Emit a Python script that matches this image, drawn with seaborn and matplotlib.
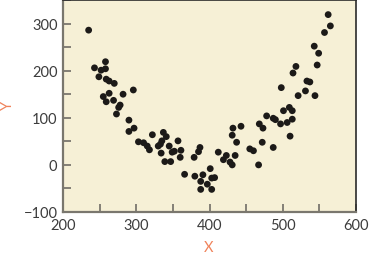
import matplotlib
matplotlib.use("Agg")
import matplotlib.pyplot as plt
import seaborn as sns
import pandas as pd
from matplotlib.ticker import MultipleLocator

x_vals = [235, 258, 243, 252, 258, 249, 259, 263, 270, 296, 282, 263, 255, 259, 269,
          278, 276, 273, 290, 290, 297, 303, 310, 315, 318, 322, 337, 341, 333, 330,
          345, 334, 339, 347, 335, 357, 352, 361, 349, 360, 387, 385, 379, 366, 380,
          391, 401, 388, 397, 403, 407, 388, 403, 412, 419, 423, 428, 431, 435, 437,
          431, 432, 443, 455, 460, 467, 472, 468, 473, 478, 487, 490, 487, 498, 533,
          537, 531, 521, 544, 501, 509, 513, 497, 506, 513, 510, 562, 565, 557, 543,
          549, 547, 518, 514]
y_vals = [286, 219, 206, 201, 204, 187, 182, 178, 173, 159, 150, 152, 145, 134, 137,
          127, 122, 108, 95, 71, 78, 49, 47, 40, 32, 64, 69, 60, 44, 40,
          40, 25, 7, 7, 51, 51, 29, 31, 27, 16, 37, 28, 16, -20, -24,
          -21, -8, -35, -41, -28, -27, -52, -52, 27, 11, 20, 6, 0, 20, 48,
          63, 78, 82, 34, 30, 0, 48, 87, 78, 104, 99, 96, 37, 164, 178,
          176, 157, 147, 147, 115, 122, 115, 87, 90, 97, 61, 319, 295, 281, 252,
          237, 212, 209, 195]
x_ticks = [200, 300, 400, 500, 600]
y_ticks = [-100, 0, 100, 200, 300]

df = pd.DataFrame({"X": x_vals, "Y": y_vals})

sns.set_style("ticks")
plt.rcParams["font.family"] = ["Lato", "DejaVu Sans"]

fig = plt.figure(figsize=(3.69, 2.55), dpi=100)
ax = fig.add_axes([63/369, 42/255, 293/369, 212/255])
ax.set_facecolor("#F6F0D6")

sns.scatterplot(data=df, x="X", y="Y", ax=ax, color="#1c1a18", s=24,
                edgecolor="none", linewidth=0)

ax.set_xlim(200, 600)
ax.set_ylim(-100, 350)
ax.set_xticks(x_ticks)
ax.set_yticks(y_ticks)
ax.set_xticklabels([str(v) for v in x_ticks])
ax.set_yticklabels([str(v).replace("-", "\u2212") for v in y_ticks])
ax.xaxis.set_minor_locator(MultipleLocator(50))
ax.yaxis.set_minor_locator(MultipleLocator(50))

for which in ("major", "minor"):
    ax.tick_params(axis="both", which=which, direction="in", length=6,
                   width=1.3, color="#7a776e")
ax.tick_params(axis="both", which="major", labelsize=10.5, labelcolor="#3c3c3c", pad=4)
ax.tick_params(axis="x", which="minor", bottom=True)

for side in ("left", "bottom"):
    ax.spines[side].set_color("#7a776e")
    ax.spines[side].set_linewidth(1.6)
for side in ("top", "right"):
    ax.spines[side].set_visible(True)
    ax.spines[side].set_color("#2a2a2a")
    ax.spines[side].set_linewidth(1.2)

ax.set_xlabel("X", color="#F0825A", fontsize=10.5)
ax.set_ylabel("Y", color="#F0825A", fontsize=10.5)
ax.xaxis.set_label_coords((209 - 63) / 293, -(248 - 213) / 212)
ax.yaxis.set_label_coords(-(63 - 7.5) / 293, (213 - 105) / 212)
ax.xaxis.label.set_va("center")
ax.yaxis.label.set_va("center")

fig.savefig("out.png", dpi=100, facecolor="white")
